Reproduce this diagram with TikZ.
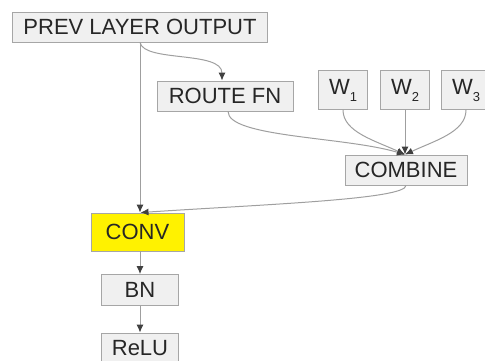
\documentclass[tikz,border=0pt]{standalone}
\usepackage{fontspec}
\setmainfont{Liberation Sans}
\usetikzlibrary{arrows.meta}

\tikzset{
  blk/.style={draw=gray!70, fill=gray!12, line width=0.9pt, inner sep=0pt,
    text=black!85, font=\fontsize{22}{24}\selectfont},
  link/.style={draw=gray!75, line width=1pt,
    -{Latex[length=8pt, width=7pt, color=gray!50!black]}}
}
\newcommand{\wsub}[1]{W\raisebox{-7pt}{\fontsize{13}{13}\selectfont #1}}

\begin{document}
\begin{tikzpicture}[x=1pt, y=-1pt]
\useasboundingbox (0,0) rectangle (485,360);
% boxes
\node[blk, minimum width=255, minimum height=30] (prev) at (140,27) {PREV LAYER OUTPUT};
\node[blk, minimum width=136, minimum height=30] (route) at (225,96) {ROUTE FN};
\node[blk, minimum width=49, minimum height=39] (w1) at (343,90) {\wsub{1}};
\node[blk, minimum width=49, minimum height=39] (w2) at (405,90) {\wsub{2}};
\node[blk, minimum width=49, minimum height=39] (w3) at (466,90) {\wsub{3}};
\node[blk, minimum width=122, minimum height=30] (comb) at (406,170) {COMBINE};
\node[blk, fill=yellow, minimum width=93, minimum height=38] (conv) at (137.5,232) {CONV\hspace{8pt}};
\node[blk, minimum width=77, minimum height=31] (bn) at (140,290) {BN};
\node[blk, minimum width=77, minimum height=30] (relu) at (140,348) {ReLU};
% routing
\draw[link] (prev.south) -- (prev.south |- conv.north);
\draw[link] (prev.south) .. controls +(4,20) and +(0,-30) .. ([xshift=-3pt]route.north);
\draw[link] ([xshift=3pt]route.south) .. controls +(0,26) and +(-60,-18) .. ([xshift=-1pt]comb.north);
\draw[link] (w1.south) .. controls +(0,22) and +(-30,-14) .. ([xshift=-1pt]comb.north);
\draw[link] (w2.south) -- ([xshift=-1pt]comb.north);
\draw[link] (w3.south) .. controls +(0,22) and +(30,-14) .. ([xshift=-1pt]comb.north);
\draw[link] (comb.south) .. controls +(0,14) and +(120,-8) .. ([xshift=3pt]conv.north);
% stack
\draw[link] ([xshift=2.5pt]conv.south) -- (bn.north);
\draw[link] (bn.south) -- (relu.north);
\end{tikzpicture}
\end{document}
